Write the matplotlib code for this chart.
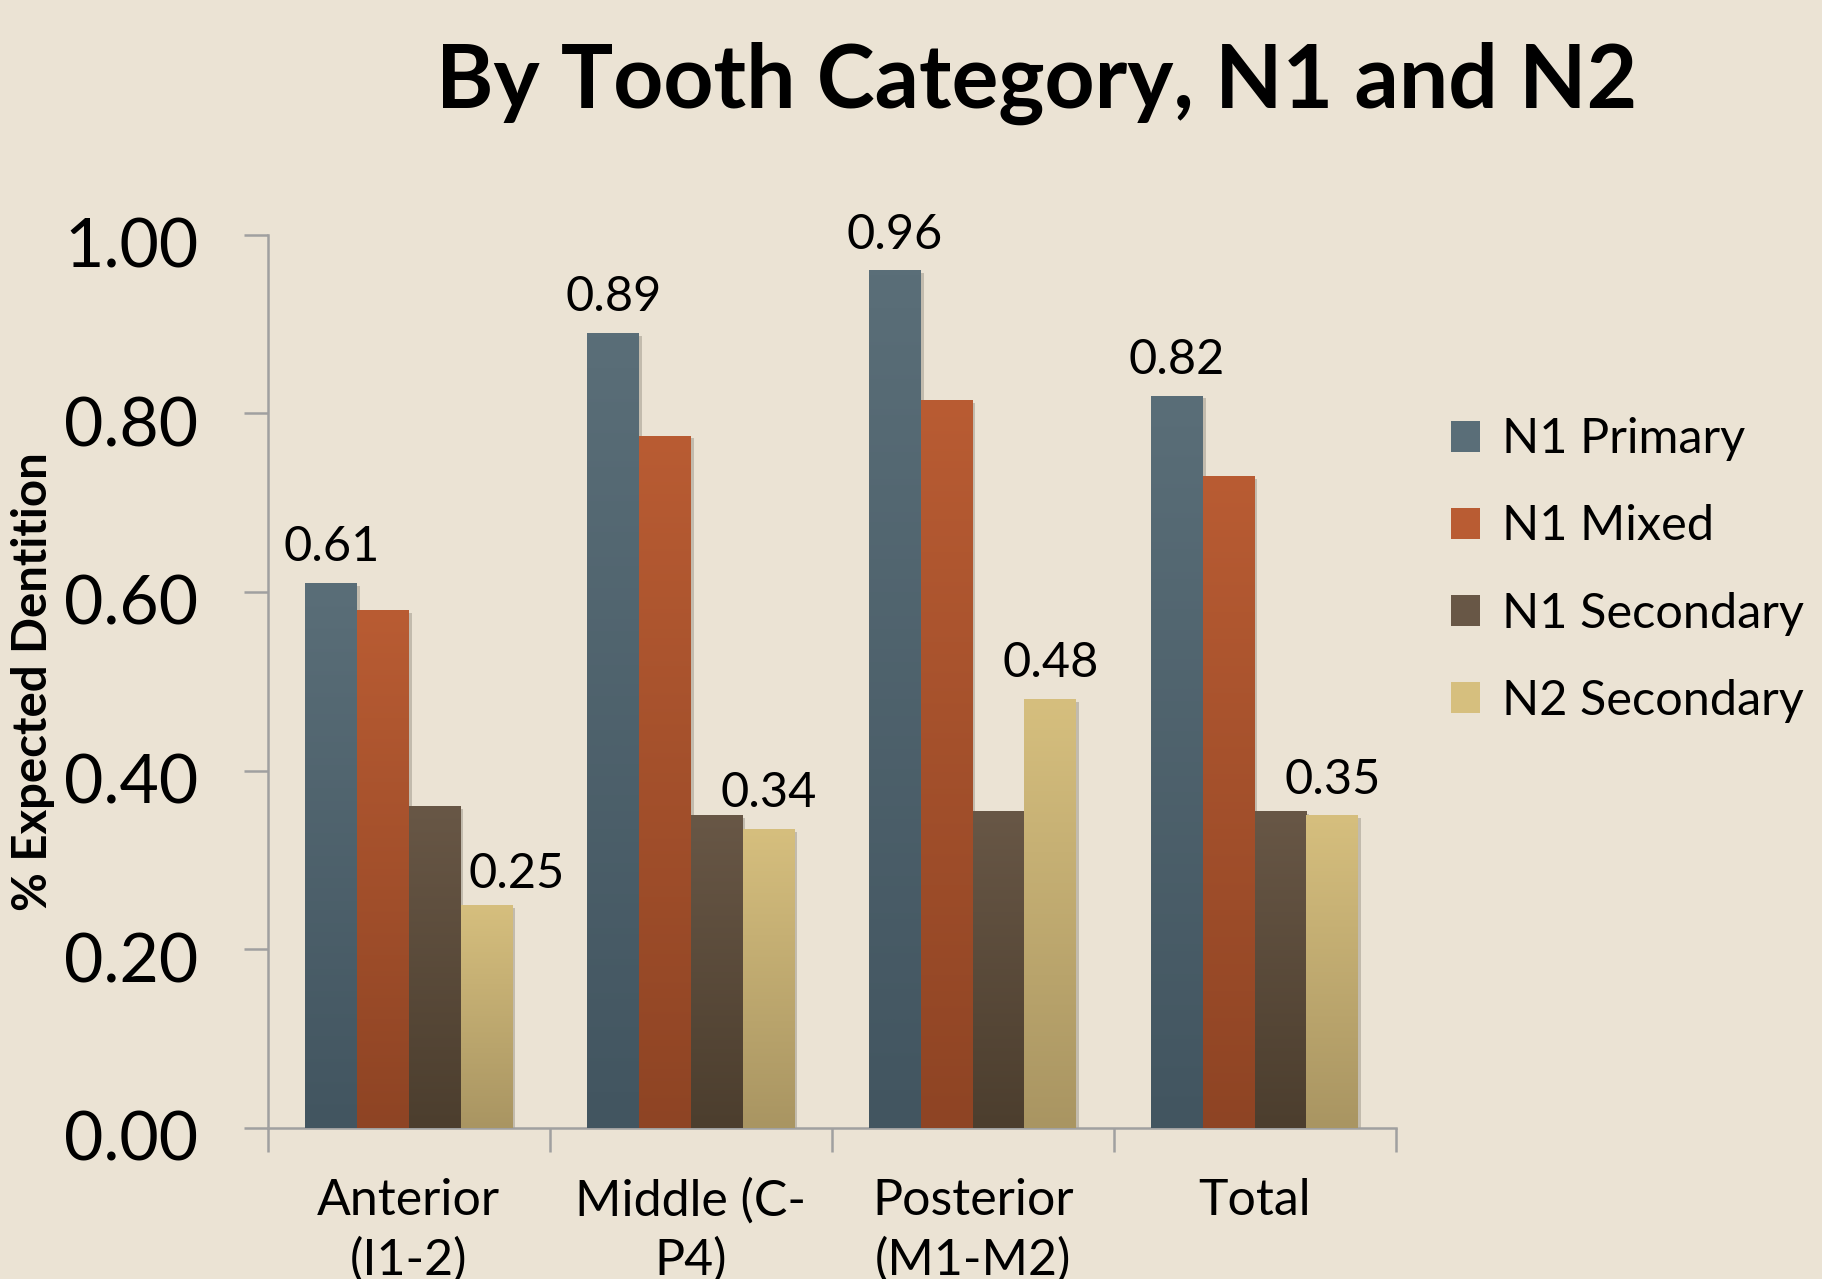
import numpy as np
import matplotlib
matplotlib.use("Agg")
import matplotlib.pyplot as plt
from matplotlib.colors import LinearSegmentedColormap
from matplotlib.patches import Patch
import matplotlib.patheffects as pe
import matplotlib.transforms as mtrans

categories = ["Anterior\n(I1-2)", "Middle (C-\nP4)", "Posterior\n(M1-M2)", "Total"]
series_names = ["N1 Primary", "N1 Mixed", "N1 Secondary", "N2 Secondary"]
n1_primary = [0.61, 0.89, 0.96, 0.82]
n1_mixed = [0.58, 0.775, 0.815, 0.73]
n1_secondary = [0.36, 0.35, 0.355, 0.355]
n2_secondary = [0.25, 0.335, 0.48, 0.35]
label_series = [0, 3]  # series that carry data labels
label_text = {0: ["0.61", "0.89", "0.96", "0.82"], 3: ["0.25", "0.34", "0.48", "0.35"]}
yticks = [0.0, 0.2, 0.4, 0.6, 0.8, 1.0]
ytick_labels = ["0.00", "0.20", "0.40", "0.60", "0.80", "1.00"]

series = [n1_primary, n1_mixed, n1_secondary, n2_secondary]
grad_colors = [("#5a6e78", "#425560"), ("#b95c33", "#8e4424"),
               ("#685746", "#4c3e2e"), ("#d6bf7e", "#a99562")]
bg = "#ebe3d4"

plt.rcParams['font.family'] = ['Lato', 'DejaVu Sans']

fig = plt.figure(figsize=(18.22, 12.79), dpi=100, facecolor=bg)
ax = fig.add_axes([0.147, 0.118, 0.619, 0.6985])
ax.set_facecolor(bg)

x = np.arange(len(categories))
bw = 0.1835
offsets = (np.arange(4) - 1.5) * bw

# label nudges (points) used where the chart moved a label aside
nudge = {(3, 0): (22, 6)}

for i, vals in enumerate(series):
    bars = ax.bar(x + offsets[i], vals, width=bw, color=grad_colors[i][1], zorder=2,
                  linewidth=0)
    cmap = LinearSegmentedColormap.from_list(f"g{i}", [grad_colors[i][1], grad_colors[i][0]])
    for b in bars:
        b.set_path_effects([pe.SimplePatchShadow(offset=(2, -2), shadow_rgbFace="#9a9488", alpha=0.5), pe.Normal()])
        bx, by = b.get_x(), b.get_y()
        w, h = b.get_width(), b.get_height()
        grad = np.linspace(0, 1, 256).reshape(-1, 1)
        im = ax.imshow(grad, extent=[bx, bx + w, by, by + h], origin="lower",
                       aspect="auto", cmap=cmap, zorder=3, interpolation="bicubic")
        im.set_clip_path(b)
    if i in label_series:
        for j, b in enumerate(bars):
            dx, dy = nudge.get((i, j), (0, 10))
            ax.annotate(label_text[i][j], (b.get_x() + b.get_width() / 2, b.get_height()),
                        xytext=(dx, dy), textcoords="offset points", ha="center", va="bottom",
                        fontsize=35, color="black", annotation_clip=False, zorder=5)

ax.set_xlim(-0.5, 3.5)
ax.set_ylim(0, 1.0)
ax.set_yticks(yticks)
ax.set_yticklabels(ytick_labels, fontsize=49)
ax.set_xticks(x)
ax.set_xticklabels(categories, fontsize=36, linespacing=1.33, va="top")
ax.set_xticks(np.arange(-0.5, 4, 1), minor=True)
ax.tick_params(axis="x", which="major", length=0, pad=36)
ax.tick_params(axis="x", which="minor", length=17, width=1.8, color="#a0a0a0", direction="out")
ax.tick_params(axis="y", length=17, width=1.8, color="#a0a0a0", direction="out", pad=33)
shift = mtrans.ScaledTranslation(0, -5.5 / 72, fig.dpi_scale_trans)
for lab in ax.get_yticklabels():
    lab.set_transform(lab.get_transform() + shift)
for s in ["top", "right"]:
    ax.spines[s].set_visible(False)
for s in ["left", "bottom"]:
    ax.spines[s].set_color("#a0a0a0")
    ax.spines[s].set_linewidth(1.8)

ax.set_ylabel("% Expected Dentition", fontsize=34, fontweight="bold")
ax.yaxis.set_label_coords(-0.189, 0.5)

fig.text(0.569, 0.935, "By Tooth Category, N1 and N2", fontsize=63, fontweight="bold",
         ha="center", va="center")

handles = [Patch(facecolor=grad_colors[i][0], edgecolor="none") for i in range(4)]
leg = fig.legend(handles, series_names, loc="upper left", bbox_to_anchor=(0.7725, 0.708),
                 frameon=False, fontsize=35, handlelength=0.6, handleheight=0.6,
                 handletextpad=0.45, labelspacing=0.89)

fig.savefig("out.png", dpi=100, facecolor=bg)
